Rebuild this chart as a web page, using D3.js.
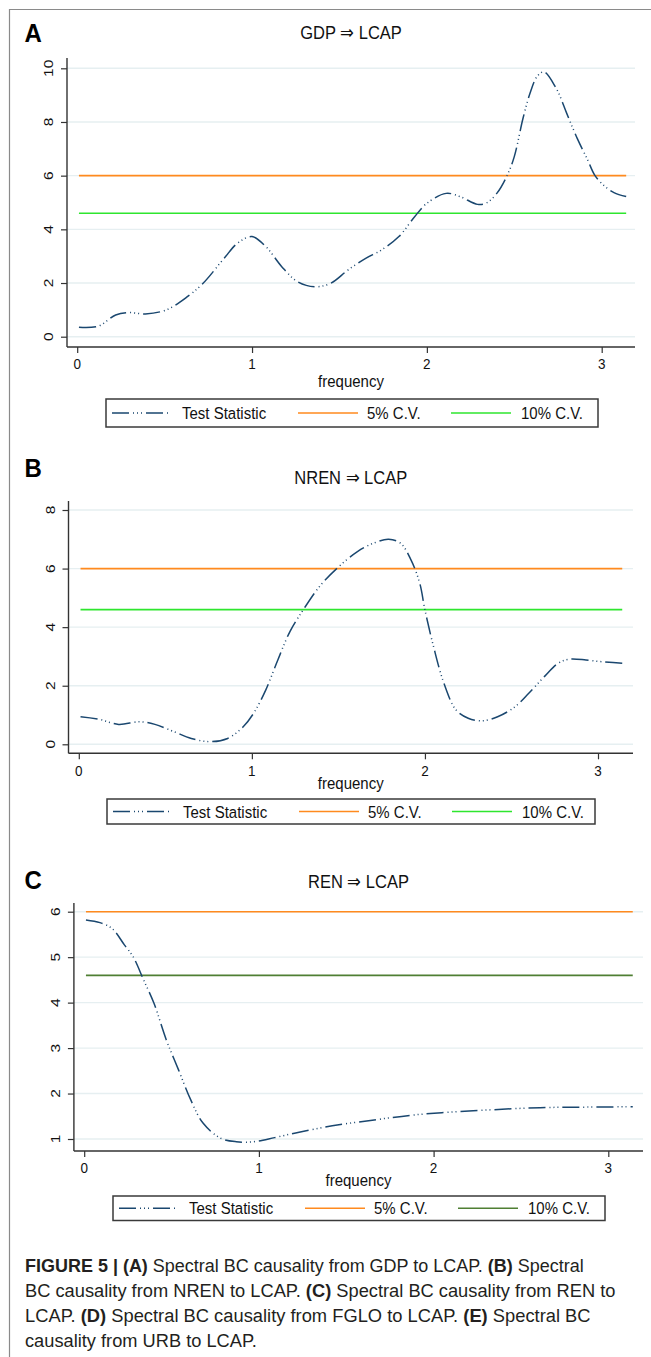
<!DOCTYPE html>
<html>
<head>
<meta charset="utf-8">
<script src="https://cdn.jsdelivr.net/npm/d3@7"></script>
<style>
  body { margin: 0; background: #fff; }
  svg { display: block; font-family: "Liberation Sans", Arial, sans-serif; }
</style>
</head>
<body>
<div id="vis"></div>
<script>
// Test statistic series (frequency, statistic)
const freqA = [0.01, 0.12, 0.22, 0.29, 0.39, 0.51, 0.63, 0.72, 0.84, 0.92, 1.00, 1.08, 1.17, 1.26, 1.36, 1.45, 1.55, 1.65, 1.74, 1.84, 1.93, 2.00, 2.11, 2.19, 2.29, 2.34, 2.40, 2.46, 2.50, 2.55, 2.59, 2.63, 2.67, 2.74, 2.80, 2.86, 2.92, 2.96, 3.01, 3.07, 3.14];
const statA = [0.35, 0.39, 0.81, 0.90, 0.85, 1.00, 1.49, 1.99, 2.92, 3.50, 3.73, 3.35, 2.61, 2.05, 1.86, 1.99, 2.49, 2.92, 3.23, 3.73, 4.47, 4.97, 5.34, 5.22, 4.93, 4.98, 5.34, 6.02, 6.71, 8.14, 9.07, 9.69, 9.87, 9.25, 8.32, 7.39, 6.58, 6.02, 5.65, 5.37, 5.22];

const freqB = [0.01, 0.12, 0.23, 0.35, 0.44, 0.55, 0.65, 0.76, 0.86, 0.95, 1.01, 1.08, 1.15, 1.22, 1.30, 1.39, 1.49, 1.61, 1.70, 1.79, 1.86, 1.92, 1.97, 2.00, 2.05, 2.11, 2.18, 2.25, 2.33, 2.42, 2.52, 2.60, 2.69, 2.77, 2.83, 2.93, 3.02, 3.14];
const statB = [0.94, 0.85, 0.68, 0.77, 0.68, 0.43, 0.20, 0.09, 0.20, 0.60, 1.06, 1.85, 2.88, 3.85, 4.62, 5.38, 6.00, 6.58, 6.86, 7.00, 6.86, 6.29, 5.50, 4.59, 3.33, 2.08, 1.17, 0.89, 0.80, 0.94, 1.28, 1.74, 2.31, 2.77, 2.90, 2.88, 2.82, 2.77];

const freqC = [0.01, 0.09, 0.16, 0.23, 0.28, 0.34, 0.40, 0.47, 0.54, 0.61, 0.68, 0.78, 0.87, 0.97, 1.09, 1.23, 1.42, 1.66, 1.89, 2.13, 2.37, 2.61, 2.84, 3.14];
const statC = [5.82, 5.76, 5.63, 5.27, 5.01, 4.50, 3.98, 3.18, 2.52, 1.86, 1.35, 1.02, 0.94, 0.94, 1.03, 1.15, 1.29, 1.42, 1.53, 1.60, 1.65, 1.69, 1.70, 1.71];

// Critical values
const cv5 = 6;
const cv10 = 4.6;

// Tick labels
const xTicks = [0, 1, 2, 3];
const yTicksA = [0, 2, 4, 6, 8, 10];
const yTicksB = [0, 2, 4, 6, 8];
const yTicksC = [1, 2, 3, 4, 5, 6];

const panelLetters = ['A', 'B', 'C'];
const titles = ['GDP \u21D2 LCAP', 'NREN \u21D2 LCAP', 'REN \u21D2 LCAP'];
const legendLabels = ['Test Statistic', '5% C.V.', '10% C.V.'];

const navy = '#1a476f', orange = '#ff8a1e', lime = '#2ee62e', forest = '#4f7f33';
const SY = 1.15; // text in the figure is slightly stretched vertically

const W = 651, H = 1357;
const svg = d3.select('#vis').append('svg').attr('width', W).attr('height', H);

// outer frame (top and left rule)
svg.append('line').attr('x1', 9).attr('x2', W).attr('y1', 9.5).attr('y2', 9.5)
    .attr('stroke', '#8a8a8a').attr('stroke-width', 1.2);
svg.append('line').attr('x1', 9.5).attr('x2', 9.5).attr('y1', 9).attr('y2', H)
    .attr('stroke', '#8a8a8a').attr('stroke-width', 1.2);

// panel layout (pixels)
const panels = [
    { freq: freqA, stat: statA, yTicks: yTicksA, yDom: [0, 10], green: lime,
      axisX: 67, right: 635, top: 58, bottom: 347, x0: 77.2, x3: 601.7, yLo: 336.7, yHi: 68.3,
      letterY: 42, titleY: 32, xlabY: 381, leg: { x: 106, y: 399, w: 492, h: 28 } },
    { freq: freqB, stat: statB, yTicks: yTicksB, yDom: [0, 8], green: lime,
      axisX: 68.5, right: 633, top: 501, bottom: 753.3, x0: 78.8, x3: 598, yLo: 744.3, yHi: 510,
      letterY: 477, titleY: 477.7, xlabY: 783, leg: { x: 107, y: 799, w: 488, h: 25 } },
    { freq: freqC, stat: statC, yTicks: yTicksC, yDom: [1, 6], green: forest,
      axisX: 73.9, right: 643, top: 903, bottom: 1151, x0: 84.2, x3: 608.3, yLo: 1139, yHi: 911.7,
      letterY: 888.5, titleY: 881, xlabY: 1180, leg: { x: 113, y: 1196, w: 492, h: 24.5 } }
];

function drawPanel(p, i) {
    const g = svg.append('g');
    const xScale = d3.scaleLinear().domain([0, 3]).range([p.x0, p.x3]);
    const yScale = d3.scaleLinear().domain(p.yDom).range([p.yLo, p.yHi]);

    // gridlines
    g.selectAll('.grid').data(p.yTicks).join('line')
        .attr('x1', p.axisX).attr('x2', p.right)
        .attr('y1', d => yScale(d)).attr('y2', d => yScale(d))
        .attr('stroke', '#e6eff1').attr('stroke-width', 1.4);

    // y axis
    const yAxis = g.append('g').attr('transform', `translate(${p.axisX},0)`)
        .call(d3.axisLeft(yScale).tickValues(p.yTicks).tickSize(6).tickFormat(''));
    yAxis.select('.domain').remove();
    yAxis.selectAll('.tick line').attr('stroke', '#333').attr('stroke-width', 1.2);
    g.append('line').attr('x1', p.axisX).attr('x2', p.axisX).attr('y1', p.top).attr('y2', p.bottom)
        .attr('stroke', '#333').attr('stroke-width', 1.4);
    g.selectAll('.ylab').data(p.yTicks).join('text')
        .attr('transform', d => `translate(${p.axisX - 18.5},${yScale(d)}) scale(1,${SY}) rotate(-90)`)
        .attr('text-anchor', 'middle').attr('dy', '0.35em')
        .style('font-size', '13.5px').attr('fill', '#111')
        .text(d => d);

    // x axis
    const xAxis = g.append('g').attr('transform', `translate(0,${p.bottom})`)
        .call(d3.axisBottom(xScale).tickValues(xTicks).tickSize(6).tickFormat(''));
    xAxis.select('.domain').remove();
    xAxis.selectAll('.tick line').attr('stroke', '#333').attr('stroke-width', 1.2);
    g.append('line').attr('x1', p.axisX).attr('x2', p.right).attr('y1', p.bottom).attr('y2', p.bottom)
        .attr('stroke', '#333').attr('stroke-width', 1.4);
    g.selectAll('.xlab').data(xTicks).join('text')
        .attr('transform', d => `translate(${xScale(d)},${p.bottom + 17}) scale(1,${SY})`)
        .attr('text-anchor', 'middle').attr('dy', '0.35em')
        .style('font-size', '13.5px').attr('fill', '#111')
        .text(d => d);
    g.append('text')
        .attr('transform', `translate(${(p.axisX + p.right) / 2},${p.xlabY}) scale(1,${SY})`)
        .attr('text-anchor', 'middle').attr('dy', '0.35em')
        .style('font-size', '15px').attr('fill', '#111')
        .text('frequency');

    // title and panel letter
    g.append('text')
        .attr('transform', `translate(${(p.axisX + p.right) / 2},${p.titleY}) scale(1,${SY})`)
        .attr('text-anchor', 'middle').attr('dy', '0.35em')
        .style('font-size', '16.5px').attr('fill', '#111')
        .text(titles[i]);
    g.append('text')
        .attr('transform', `translate(24.5,${p.letterY}) scale(1,1.08)`)
        .style('font-size', '24px').style('font-weight', 'bold').attr('fill', '#000')
        .text(panelLetters[i]);

    // critical value lines over the frequency range of the series
    const fMin = d3.min(p.freq), fMax = d3.max(p.freq);
    [[cv5, orange], [cv10, p.green]].forEach(([v, c]) => {
        g.append('line')
            .attr('x1', xScale(fMin)).attr('x2', xScale(fMax))
            .attr('y1', yScale(v)).attr('y2', yScale(v))
            .attr('stroke', c).attr('stroke-width', 1.6);
    });

    // test statistic curve
    const pts = p.freq.map((f, k) => [f, p.stat[k]]);
    const line = d3.line().x(d => xScale(d[0])).y(d => yScale(d[1])).curve(d3.curveCatmullRom.alpha(0.5));
    g.append('path').datum(pts)
        .attr('d', line)
        .attr('fill', 'none').attr('stroke', navy).attr('stroke-width', 1.5)
        .attr('stroke-dasharray', '17 4 1 3 1 3 1 4');

    // legend
    const L = p.leg;
    const lg = g.append('g').attr('transform', `translate(${L.x},${L.y})`);
    lg.append('rect').attr('width', L.w).attr('height', L.h)
        .attr('fill', '#fff').attr('stroke', '#3a3a3a').attr('stroke-width', 1.5);
    const items = [
        { x1: 6, x2: 62, tx: 76, color: navy, dash: '17 4 1 3 1 3 1 4' },
        { x1: 192, x2: 252, tx: 261, color: orange, dash: null },
        { x1: 345, x2: 405, tx: 415, color: p.green, dash: null }
    ];
    items.forEach((it, k) => {
        lg.append('line').attr('x1', it.x1).attr('x2', it.x2)
            .attr('y1', L.h / 2).attr('y2', L.h / 2)
            .attr('stroke', it.color).attr('stroke-width', 1.6)
            .attr('stroke-dasharray', it.dash);
        lg.append('text')
            .attr('transform', `translate(${it.tx},${L.h / 2}) scale(1,${SY})`)
            .attr('dy', '0.35em').style('font-size', '15px').attr('fill', '#111')
            .text(legendLabels[k]);
    });
}

panels.forEach(drawPanel);

// caption
const captionLines = [
    [['FIGURE 5 | (A)', true], [' Spectral BC causality from GDP to LCAP. ', false], ['(B)', true], [' Spectral', false]],
    [['BC causality from NREN to LCAP. ', false], ['(C)', true], [' Spectral BC causality from REN to', false]],
    [['LCAP. ', false], ['(D)', true], [' Spectral BC causality from FGLO to LCAP. ', false], ['(E)', true], [' Spectral BC', false]],
    [['causality from URB to LCAP.', false]]
];
const captionWidths = [559, 591, 566, 232];
const captionY = [1271.5, 1296.5, 1321.5, 1346.5];

captionLines.forEach((segs, i) => {
    const t = svg.append('text')
        .attr('transform', `translate(25,${captionY[i]})`)
        .style('font-size', '18.5px').attr('fill', '#231f20');
    segs.forEach(([s, b]) => {
        t.append('tspan').style('font-weight', b ? 'bold' : 'normal').text(s);
    });
    const w = t.node().getComputedTextLength();
    t.attr('transform', `translate(25,${captionY[i]}) scale(${captionWidths[i] / w},1)`);
});
</script>
</body>
</html>
